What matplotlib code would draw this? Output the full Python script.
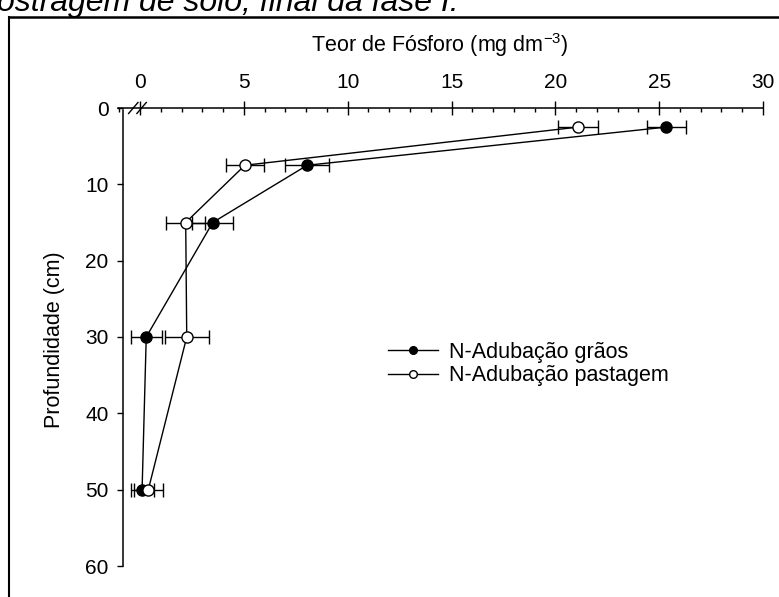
import matplotlib
matplotlib.use("Agg")
import matplotlib.pyplot as plt
from matplotlib.lines import Line2D
from matplotlib.ticker import MultipleLocator

plt.rcParams['font.family'] = ['Liberation Sans', 'DejaVu Sans']

# Soil phosphorus content by depth
depth = [2.5, 7.5, 15, 30, 50]
p_graos = [25.35, 8.05, 3.5, 0.3, 0.1]
err_graos = [0.95, 1.05, 1.0, 0.75, 0.55]
p_pastagem = [21.1, 5.05, 2.2, 2.25, 0.4]
err_pastagem = [0.95, 0.92, 0.95, 1.05, 0.7]

series_labels = ["N-Adubação grãos", "N-Adubação pastagem"]
x_ticks = [0, 5, 10, 15, 20, 25, 30]
y_ticks = [0, 10, 20, 30, 40, 50, 60]

W, H = 779, 597
fig = plt.figure(figsize=(W / 100, H / 100), dpi=100)

# outer frame (left and top edges)
fig.add_artist(Line2D([9 / W, 9 / W], [0, 1 - 17 / H], transform=fig.transFigure,
                      color='black', lw=1.5))
fig.add_artist(Line2D([9 / W, 1], [1 - 17 / H, 1 - 17 / H], transform=fig.transFigure,
                      color='black', lw=1.8))

# caption running off the top edge
fig.text(-3 / W, 1 - 11 / H, "ostragem de solo, final da fase I.", fontsize=23,
         style='italic', ha='left', va='baseline')

ax = fig.add_axes([118 / W, 1 - 566 / H, (763 - 118) / W, (566 - 108) / H])
ax.set_xlim(-1.06, 30)
ax.set_ylim(60, 0)

kw = dict(color='black', lw=1.0, elinewidth=1.0, capsize=4.8, capthick=1.0,
          markersize=8.0, markeredgewidth=1.0, markeredgecolor='black')
ax.errorbar(p_graos, depth, xerr=err_graos, fmt='-o', markerfacecolor='black',
            zorder=3, **kw)
ax.errorbar(p_pastagem, depth, xerr=err_pastagem, fmt='-o', markerfacecolor='white',
            zorder=4, **kw)

for s in ['bottom', 'right']:
    ax.spines[s].set_visible(False)
ax.spines['top'].set_linewidth(1.1)
ax.spines['left'].set_linewidth(1.1)
ax.spines['left'].set_position(('data', -0.82))
ax.spines['left'].set_bounds(0.3, 60)

ax.xaxis.set_ticks_position('top')
ax.set_xticks(x_ticks)
ax.xaxis.set_minor_locator(MultipleLocator(1))
ax.tick_params(axis='x', which='major', direction='inout', length=9.5, width=1.0,
               pad=7.0, labelsize=15)
ax.tick_params(axis='x', which='minor', direction='in', length=3.0, width=1.0)
ax.set_yticks(y_ticks)
ax.tick_params(axis='y', which='major', direction='out', length=4.3, width=1.0,
               pad=6.0, labelsize=15)

# axis break marks on the top axis
tr = ax.get_xaxis_transform()
for x0 in (-0.55, -0.15):
    ax.plot([x0, x0 + 0.45], [1 - 0.012, 1 + 0.012], transform=tr, color='black',
            lw=1.0, clip_on=False, zorder=5)

fig.text(440 / W, 1 - 45 / H, r"Teor de Fósforo (mg dm$^{\mathregular{-3}}$)",
         fontsize=15.5, ha='center', va='center')
fig.text(55 / W, 1 - 340 / H, "Profundidade (cm)", fontsize=15.5, rotation=90,
         ha='center', va='center')

handles = [
    Line2D([], [], color='black', lw=1.0, marker='o', markersize=5.5,
           markerfacecolor='black', markeredgecolor='black'),
    Line2D([], [], color='black', lw=1.0, marker='o', markersize=5.5,
           markerfacecolor='white', markeredgecolor='black'),
]
ax.legend(handles, series_labels, loc='upper left',
          bbox_to_anchor=(388 / W, 1 - 342 / H), bbox_transform=fig.transFigure,
          frameon=False, fontsize=15.5, handlelength=2.3, handletextpad=0.55,
          labelspacing=0.1, borderpad=0, borderaxespad=0)

fig.savefig("out.png", dpi=100)
